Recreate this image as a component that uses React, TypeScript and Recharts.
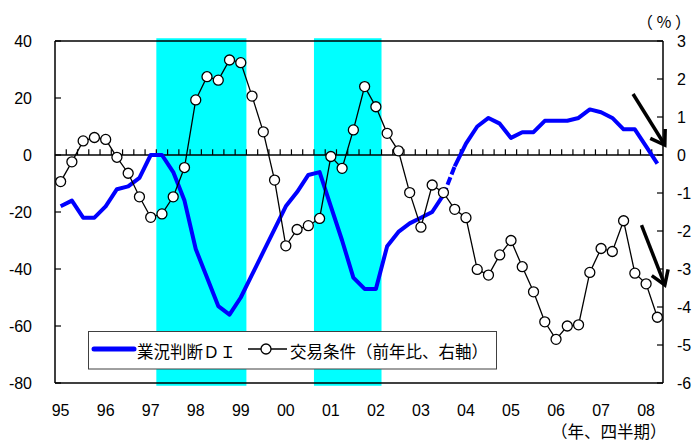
import { LineChart, Line, XAxis, YAxis, ReferenceArea, ReferenceLine, Legend } from "recharts"

const yearLabels = ["95", "96", "97", "98", "99", "00", "01", "02", "03", "04", "05", "06", "07", "08"]
const quarters = yearLabels.flatMap((y) => ["Q1", "Q2", "Q3", "Q4"].map((q) => y + q)).slice(0, 54)

// 業況判断DI (left axis)
const diValues = [
  -18, -16, -22, -22, -18, -12, -11, -8, 0, 0,
  -6, -16, -33, -43, -53, -56, -50, -42, -34, -26,
  -18, -13, -7, -6, -18, -30, -43, -47, -47, -32,
  -27, -24, -22, -20, -14, -4, 4, 10, 13, 11,
  6, 8, 8, 12, 12, 12, 13, 16, 15, 13,
  9, 9, 3, -3,
]

// 交易条件 前年比 % (right axis)
const totValues = [
  -0.7, -0.18, 0.37, 0.46, 0.41, -0.06, -0.48, -1.1, -1.64, -1.55,
  -1.1, -0.33, 1.45, 2.06, 1.97, 2.5, 2.43, 1.55, 0.61, -0.66,
  -2.39, -1.96, -1.86, -1.67, -0.04, -0.35, 0.66, 1.8, 1.27, 0.57,
  0.11, -0.99, -1.9, -0.79, -0.99, -1.43, -1.65, -3.01, -3.16, -2.63,
  -2.25, -2.94, -3.6, -4.39, -4.85, -4.5, -4.47, -3.09, -2.46, -2.54,
  -1.73, -3.11, -3.39, -4.27,
]

const recessions = [["97Q2", "99Q1"], ["00Q4", "02Q1"]]
const dashedSpan = ["03Q3", "03Q4"]

const leftTicks = [-80, -60, -40, -20, 0, 20, 40]
const rightTicks = [-6, -5, -4, -3, -2, -1, 0, 1, 2, 3]

// annotation arrows, in (quarter index, left-axis value)
const arrows = [
  { from: [50.84, 21.4], to: [53.66, 3.5] },
  { from: [51.59, -24.6], to: [53.66, -45.6] },
]

const dashStart = quarters.indexOf(dashedSpan[0])
const dashEnd = quarters.indexOf(dashedSpan[1])

const data = quarters.map((q, i) => ({
  idx: i,
  q,
  di1: i <= dashStart ? diValues[i] : null,
  diDash: i >= dashStart && i <= dashEnd ? diValues[i] : null,
  di2: i >= dashEnd ? diValues[i] : null,
  tot: totValues[i],
}))

const yearTicks = quarters.map((q, i) => i).filter((i) => i % 4 === 0)
const boundaries = quarters.slice(1).map((q, i) => i + 0.5)

const numFont = "'Liberation Sans', Arial, sans-serif"
const jpFont = "'Noto Sans CJK JP', sans-serif"

const Arrow = (props: any) => {
  const { x1, y1, x2, y2 } = props
  const ang = Math.atan2(y2 - y1, x2 - x1) + Math.PI
  const len = 16
  const a = ang - 0.58
  const b = ang + 0.58
  return (
    <g>
      <line x1={x1} y1={y1} x2={x2} y2={y2} stroke="#000" strokeWidth={3.5} />
      <polyline
        points={`${x2 + len * Math.cos(a)},${y2 + len * Math.sin(a)} ${x2},${y2} ${x2 + len * Math.cos(b)},${y2 + len * Math.sin(b)}`}
        fill="none"
        stroke="#000"
        strokeWidth={3.5}
      />
    </g>
  )
}

const LegendBox = () => (
  <svg width={410} height={40}>
    <rect x={0.5} y={0.5} width={408} height={37.5} fill="#fff" stroke="#404040" />
    <line x1={6} y1={18} x2={46} y2={18} stroke="#0000ff" strokeWidth={5} strokeLinecap="round" />
    <text x={49} y={26.5} fontSize={16.5} fontFamily={jpFont} fill="#000">業況判断ＤＩ</text>
    <line x1={160} y1={18} x2={199} y2={18} stroke="#000" strokeWidth={1.3} />
    <circle cx={178} cy={18} r={5} fill="#fff" stroke="#000" strokeWidth={1.3} />
    <text x={202} y={26.5} fontSize={16.5} fontFamily={jpFont} fill="#000">交易条件（前年比、右軸）</text>
  </svg>
)

export default function App() {
  return (
    <div style={{ position: "absolute", left: 0, top: 0, width: 695, height: 444, background: "#fff", overflow: "hidden" }}>
      <LineChart width={695} height={444} data={data} margin={{ top: 41, right: 0, bottom: 0, left: 0 }}>
        <XAxis
          dataKey="idx"
          type="number"
          domain={[-0.5, 53.5]}
          ticks={yearTicks}
          interval={0}
          allowDataOverflow
          tickFormatter={(v: number) => yearLabels[v / 4]}
          height={61}
          tickLine={false}
          tickSize={0}
          tickMargin={22}
          axisLine={{ stroke: "#000", strokeWidth: 1.5 }}
          tick={{ fill: "#000", fontSize: 16, fontFamily: numFont }}
        />
        <YAxis
          yAxisId="left"
          domain={[-80, 40]}
          ticks={leftTicks}
          width={55}
          tickSize={-6}
          tickMargin={29}
          axisLine={{ stroke: "#000", strokeWidth: 1.5 }}
          tickLine={{ stroke: "#000", strokeWidth: 1.2 }}
          tick={{ fill: "#000", fontSize: 16, fontFamily: numFont }}
        />
        <YAxis
          yAxisId="right"
          orientation="right"
          domain={[-6, 3]}
          ticks={rightTicks}
          width={32}
          tickSize={-6}
          tickMargin={20}
          axisLine={{ stroke: "#000", strokeWidth: 1.5 }}
          tickLine={{ stroke: "#000", strokeWidth: 1.2 }}
          tick={{ fill: "#000", fontSize: 16, fontFamily: numFont, textAnchor: "start" }}
        />
        <ReferenceLine yAxisId="left" y={40} stroke="#000" strokeWidth={1.5} />
        {recessions.map(([s, e]) => (
          <ReferenceArea
            key={s}
            yAxisId="left"
            x1={quarters.indexOf(s) - 0.5}
            x2={quarters.indexOf(e) + 0.5}
            y1={-81}
            y2={41}
            ifOverflow="visible"
            fill="#00ffff"
            fillOpacity={1}
            stroke="none"
          />
        ))}
        <ReferenceLine yAxisId="left" y={0} stroke="#000" strokeWidth={1.3} />
        {boundaries.map((b) => (
          <ReferenceLine
            key={b}
            yAxisId="left"
            segment={[{ x: b, y: 0 }, { x: b, y: 2 }]}
            stroke="#000"
            strokeWidth={1.2}
          />
        ))}
        <Line yAxisId="left" dataKey="di1" stroke="#0000ff" strokeWidth={4} dot={false} isAnimationActive={false} strokeLinejoin="round" />
        <Line yAxisId="left" dataKey="diDash" stroke="#0000ff" strokeWidth={4} strokeDasharray="8 3" dot={false} isAnimationActive={false} />
        <Line yAxisId="left" dataKey="di2" stroke="#0000ff" strokeWidth={4} dot={false} isAnimationActive={false} strokeLinejoin="round" />
        <Line
          yAxisId="right"
          dataKey="tot"
          stroke="#000"
          strokeWidth={1.3}
          dot={{ r: 5, fill: "#fff", stroke: "#000", strokeWidth: 1.3 }}
          isAnimationActive={false}
        />
        {arrows.map((a, i) => (
          <ReferenceLine
            key={i}
            yAxisId="left"
            segment={[{ x: a.from[0], y: a.from[1] }, { x: a.to[0], y: a.to[1] }]}
            ifOverflow="visible"
            shape={Arrow}
          />
        ))}
        <Legend
          layout="horizontal"
          verticalAlign="middle"
          align="center"
          content={LegendBox}
          wrapperStyle={{ left: 88, top: 331, width: 410, height: 40 }}
        />
      </LineChart>
      <div style={{ position: "absolute", left: 637, top: 13, fontSize: 16, lineHeight: 1, fontFamily: jpFont, letterSpacing: 3, whiteSpace: "nowrap" }}>
        （％）
      </div>
      <div style={{ position: "absolute", left: 551, top: 422, fontSize: 16.5, lineHeight: 1.2, fontFamily: jpFont, whiteSpace: "nowrap" }}>
        （年、四半期）
      </div>
    </div>
  )
}
